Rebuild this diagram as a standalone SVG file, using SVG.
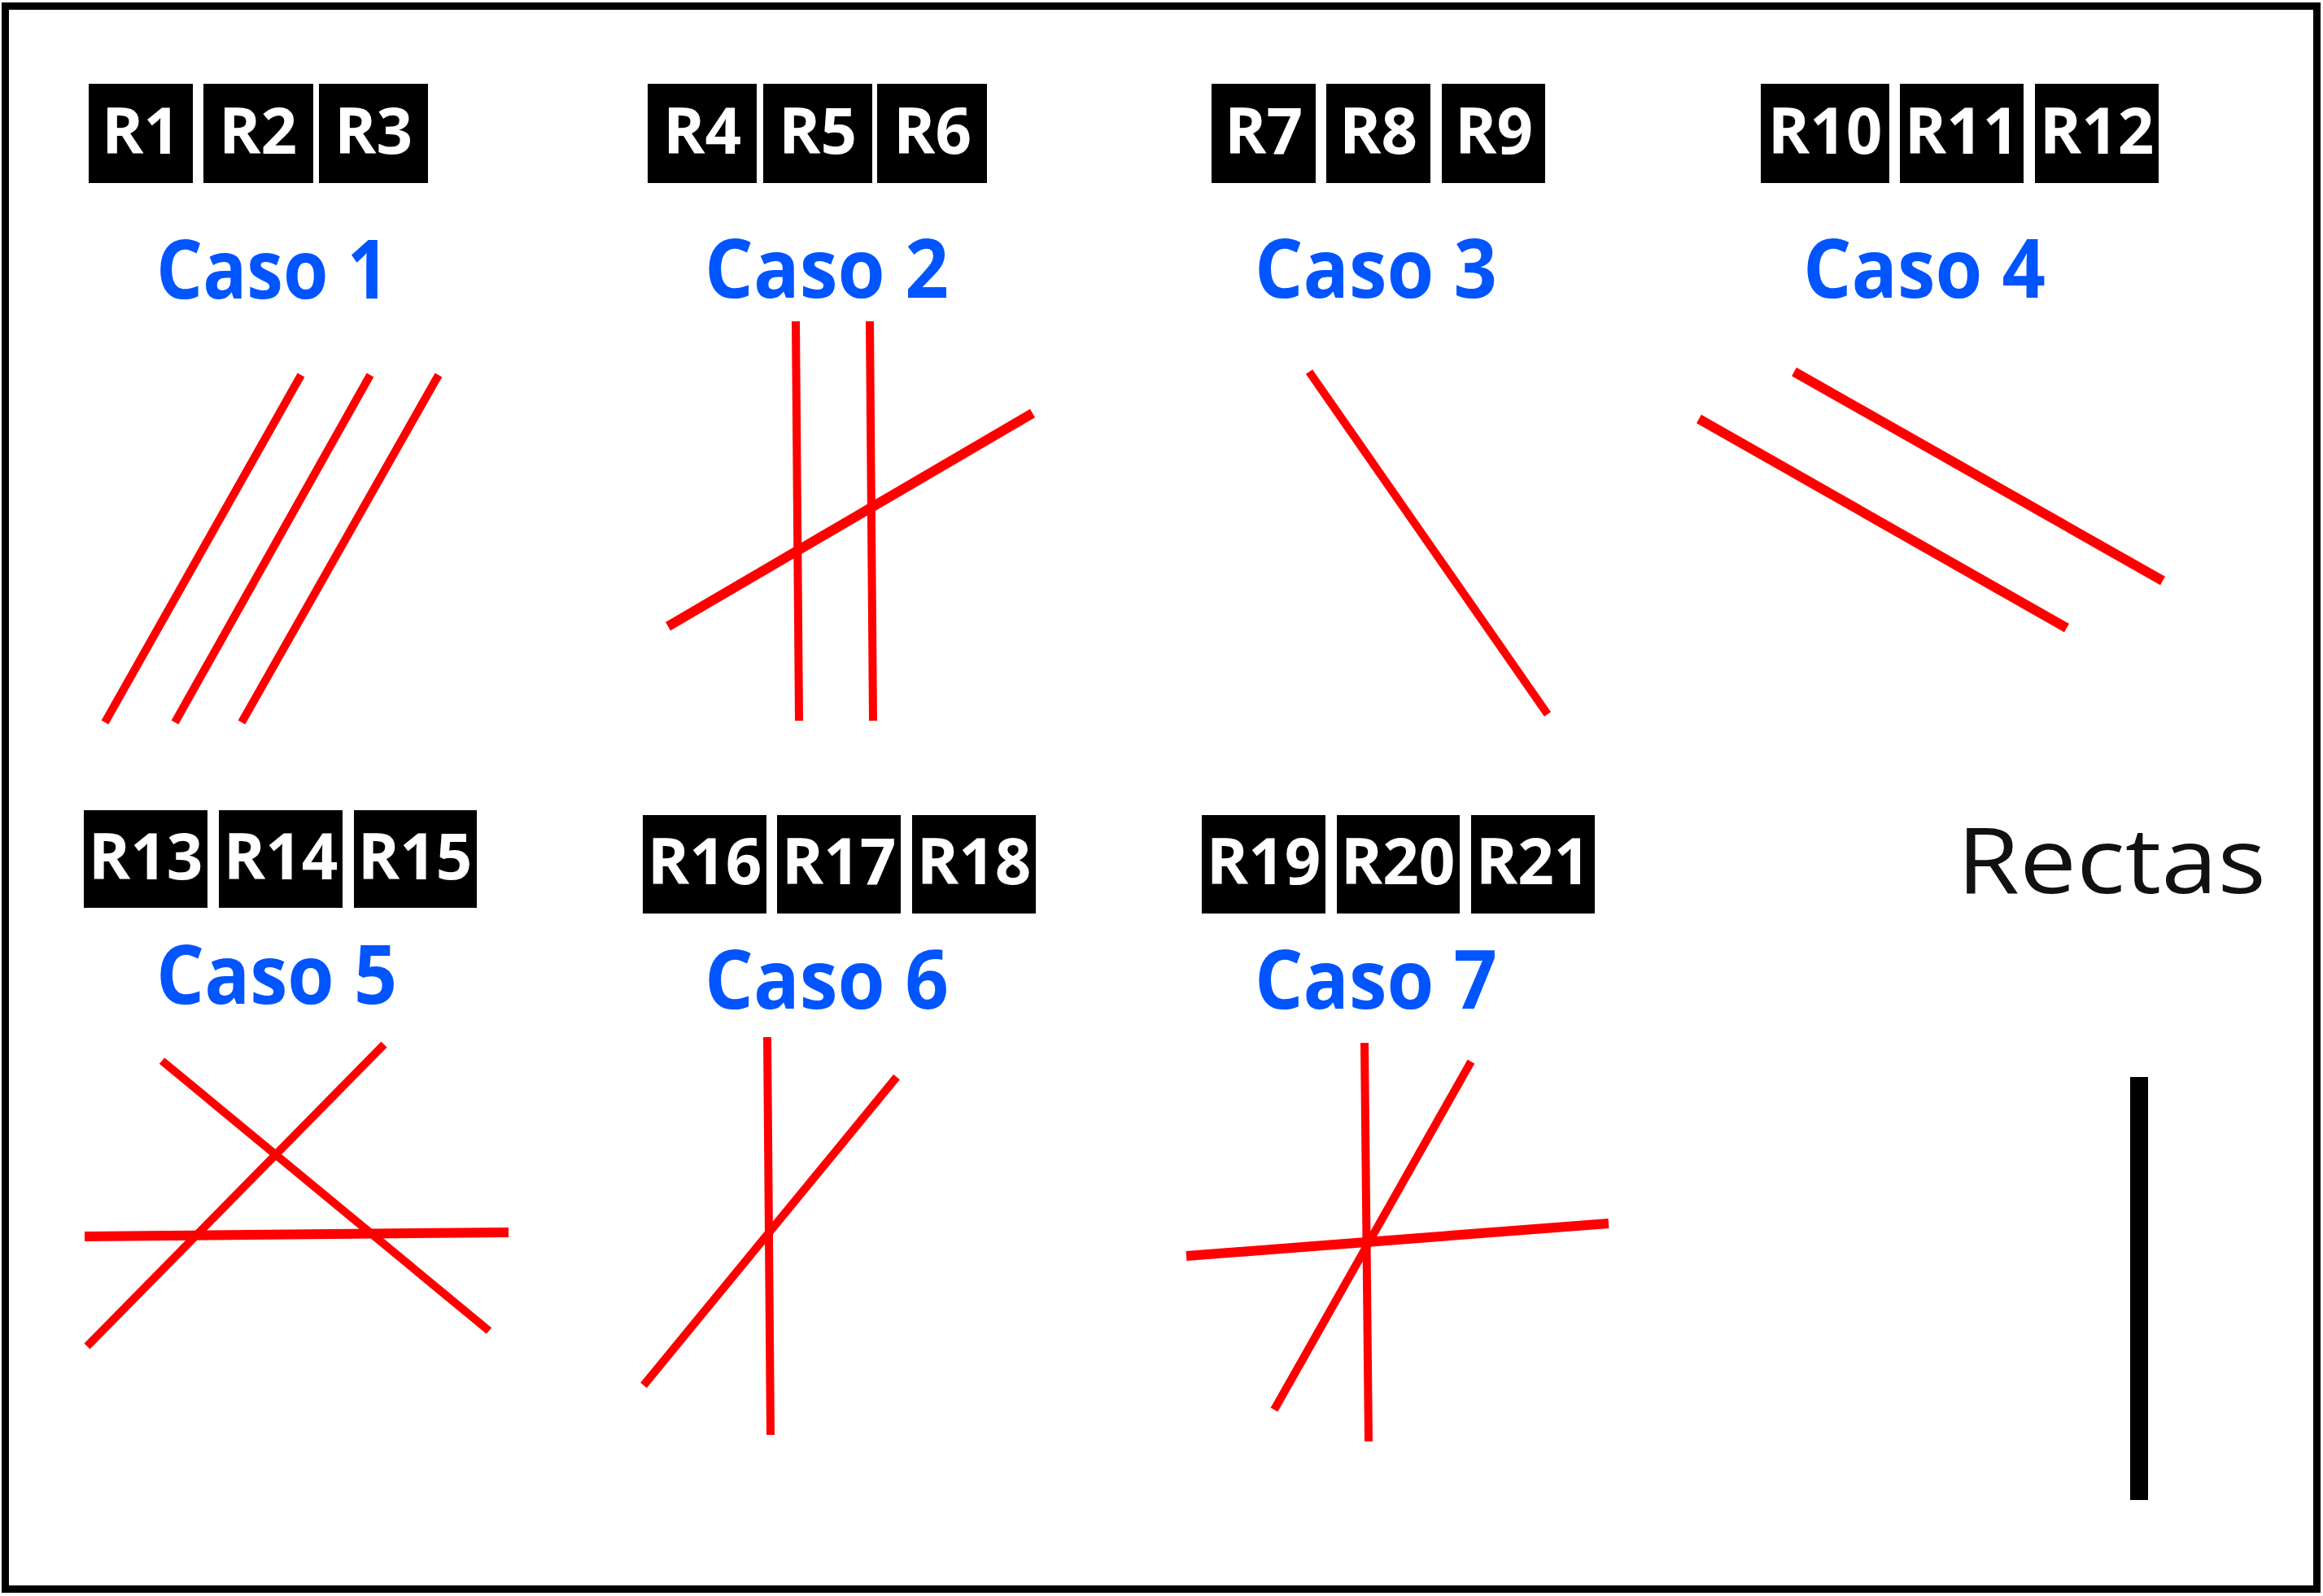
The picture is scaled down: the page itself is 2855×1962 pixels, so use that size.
<svg xmlns="http://www.w3.org/2000/svg" width="2855" height="1962" viewBox="0 0 2855 1962">
<style>
.box{fill:#000;}
.lbl{font-family:"Open Sans","Noto Sans",sans-serif;font-weight:700;font-size:78px;fill:#fff;text-anchor:middle;}
.caso{font-family:"Open Sans","Noto Sans",sans-serif;font-weight:700;font-size:100px;fill:#0055ff;}
.r{stroke:#ff0000;stroke-width:10;fill:none;}
.rt{stroke:#ff0000;stroke-width:10;fill:none;}
.rk{stroke:#ff0000;stroke-width:12;fill:none;}
</style>
<rect x="6.5" y="7.5" width="2841" height="1946" fill="#fff" stroke="#000" stroke-width="9"/>
<g id="caso1">
<rect class="box" x="109" y="103" width="128" height="122"/><text class="lbl" x="173" y="189">R1</text>
<rect class="box" x="250" y="103" width="135" height="122"/><text class="lbl" x="317" y="189">R2</text>
<rect class="box" x="392" y="103" width="134" height="122"/><text class="lbl" x="459" y="189">R3</text>
<text class="caso" x="192" y="367" textLength="286" lengthAdjust="spacingAndGlyphs">Caso 1</text>
</g>
<g id="caso2">
<rect class="box" x="796" y="103" width="134" height="122"/><text class="lbl" x="863" y="189">R4</text>
<rect class="box" x="938" y="103" width="134" height="122"/><text class="lbl" x="1005" y="189">R5</text>
<rect class="box" x="1078" y="103" width="135" height="122"/><text class="lbl" x="1146" y="189">R6</text>
<text class="caso" x="866" y="366" textLength="300" lengthAdjust="spacingAndGlyphs">Caso 2</text>
</g>
<g id="caso3">
<rect class="box" x="1489" y="103" width="128" height="122"/><text class="lbl" x="1553" y="189">R7</text>
<rect class="box" x="1630" y="103" width="128" height="122"/><text class="lbl" x="1694" y="189">R8</text>
<rect class="box" x="1772" y="103" width="127" height="122"/><text class="lbl" x="1836" y="189">R9</text>
<text class="caso" x="1542" y="366" textLength="298" lengthAdjust="spacingAndGlyphs">Caso 3</text>
</g>
<g id="caso4">
<rect class="box" x="2164" y="103" width="158" height="122"/><text class="lbl" x="2243" y="189">R10</text>
<rect class="box" x="2335" y="103" width="152" height="122"/><text class="lbl" x="2411" y="189">R11</text>
<rect class="box" x="2501" y="103" width="152" height="122"/><text class="lbl" x="2577" y="189">R12</text>
<text class="caso" x="2216" y="366" textLength="298" lengthAdjust="spacingAndGlyphs">Caso 4</text>
</g>
<g id="caso5">
<rect class="box" x="103" y="996" width="152" height="120"/><text class="lbl" x="179" y="1081">R13</text>
<rect class="box" x="269" y="996" width="152" height="120"/><text class="lbl" x="345" y="1081">R14</text>
<rect class="box" x="435" y="996" width="151" height="120"/><text class="lbl" x="510" y="1081">R15</text>
<text class="caso" x="192" y="1234" textLength="296" lengthAdjust="spacingAndGlyphs">Caso 5</text>
</g>
<g id="caso6">
<rect class="box" x="790" y="1002" width="152" height="121"/><text class="lbl" x="866" y="1087">R16</text>
<rect class="box" x="955" y="1002" width="152" height="121"/><text class="lbl" x="1031" y="1087">R17</text>
<rect class="box" x="1121" y="1002" width="152" height="121"/><text class="lbl" x="1197" y="1087">R18</text>
<text class="caso" x="866" y="1240" textLength="300" lengthAdjust="spacingAndGlyphs">Caso 6</text>
</g>
<g id="caso7">
<rect class="box" x="1477" y="1002" width="152" height="121"/><text class="lbl" x="1553" y="1087">R19</text>
<rect class="box" x="1643" y="1002" width="151" height="121"/><text class="lbl" x="1718" y="1087">R20</text>
<rect class="box" x="1808" y="1002" width="152" height="121"/><text class="lbl" x="1884" y="1087">R21</text>
<text class="caso" x="1542" y="1240" textLength="298" lengthAdjust="spacingAndGlyphs">Caso 7</text>
</g>
<g id="leyenda">
<text x="2405" y="1098" font-family="'Open Sans','Noto Sans',sans-serif" font-size="112" fill="#111" textLength="380" lengthAdjust="spacingAndGlyphs">Rectas</text>
<line x1="2629" y1="1324" x2="2629" y2="1844" stroke="#000" stroke-width="22"/>
</g>
<g id="rectas">
<line class="r" x1="370" y1="461" x2="129" y2="888"/>
<line class="r" x1="455" y1="461" x2="215" y2="888"/>
<line class="r" x1="539" y1="461" x2="297" y2="888"/>
<line class="rt" x1="978" y1="395" x2="982" y2="886"/>
<line class="rt" x1="1069" y1="395" x2="1073" y2="886"/>
<line class="rk" x1="821" y1="770" x2="1269" y2="508"/>
<line class="r" x1="1609" y1="457" x2="1902" y2="878"/>
<line class="rk" x1="2205" y1="457" x2="2658" y2="714"/>
<line class="rk" x1="2088" y1="515" x2="2540" y2="772"/>
<line class="r" x1="199" y1="1304" x2="601" y2="1636"/>
<line class="r" x1="472" y1="1284" x2="107" y2="1655"/>
<line class="rk" x1="104" y1="1520" x2="625" y2="1515"/>
<line class="rt" x1="943" y1="1275" x2="947" y2="1764"/>
<line class="r" x1="1102" y1="1324" x2="791" y2="1703"/>
<line class="rt" x1="1677" y1="1282" x2="1682" y2="1772"/>
<line class="r" x1="1808" y1="1305" x2="1566" y2="1733"/>
<line class="rk" x1="1458" y1="1544" x2="1977" y2="1504"/>
</g>
</svg>
